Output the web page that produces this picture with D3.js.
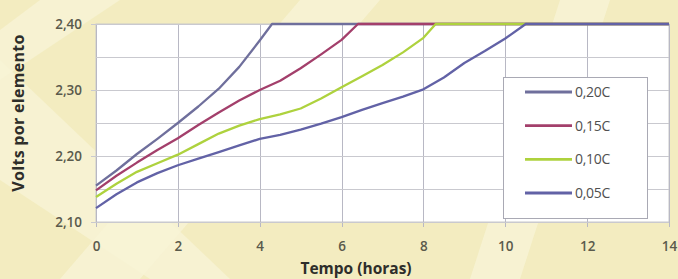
<!DOCTYPE html>
<html><head><meta charset="utf-8">
<script src="https://cdn.jsdelivr.net/npm/d3@7"></script>
<style>body{margin:0;background:#f4eec3;}svg{display:block;}</style>
</head><body>
<script>
const seriesNames = ["0,20C","0,15C","0,10C","0,05C"];
const t020 = [0,0.5,1,1.5,2,2.5,3,3.5,4,4.3,14];
const v020 = [2.155,2.178,2.203,2.226,2.250,2.275,2.302,2.335,2.375,2.400,2.400];
const t015 = [0,0.5,1,1.5,2,2.5,3,3.5,4,4.5,5,5.5,6,6.4,14];
const v015 = [2.148,2.170,2.190,2.209,2.227,2.247,2.266,2.284,2.300,2.314,2.333,2.354,2.376,2.400,2.400];
const t010 = [0,0.5,1,1.5,2,2.5,3,3.5,4,4.5,5,5.5,6,6.5,7,7.5,8,8.3,14];
const v010 = [2.138,2.158,2.176,2.189,2.202,2.218,2.234,2.246,2.256,2.263,2.272,2.287,2.304,2.321,2.338,2.357,2.379,2.400,2.400];
const t005 = [0,0.5,1,1.5,2,2.5,3,3.5,4,4.5,5,5.5,6,6.5,7,7.5,8,8.5,9,9.5,10,10.5,14];
const v005 = [2.121,2.142,2.160,2.174,2.186,2.196,2.206,2.216,2.226,2.232,2.240,2.249,2.259,2.270,2.280,2.290,2.301,2.319,2.341,2.359,2.378,2.400,2.400];
const xTicks = [0,2,4,6,8,10,12,14];
const yTicks = [2.10,2.20,2.30,2.40];
const yMinor = [2.15,2.25,2.35];
const colors = ["#6f6f9c","#a33f6b","#aed23e","#6262a6"];

const W=678,H=279;
const svg=d3.select("body").append("svg").attr("width",W).attr("height",H);
const bg=svg.append("g");
bg.append("rect").attr("width",W).attr("height",H).attr("fill","#f3ecc0");
const stripes=[[[0,60],[0,180],[150,279],[230,279]],[[300,0],[380,0],[140,279],[60,279]],[[560,0],[610,0],[520,279],[470,279]],[[40,0],[120,0],[0,80],[0,30]]];
bg.selectAll("path.s").data(stripes).join("path").attr("d",d=>"M"+d.join("L")+"Z").attr("fill","#f8f4d6").attr("opacity",0.8);

const x=d3.scaleLinear().domain([0,14]).range([96,669]);
const y=d3.scaleLinear().domain([2.10,2.40]).range([222,24]);

svg.append("rect").attr("x",x(0)).attr("y",y(2.40)).attr("width",x(14)-x(0)).attr("height",y(2.10)-y(2.40)).attr("fill","#fff").attr("stroke","#c9c9c9");

const grid=svg.append("g").attr("stroke","#c9c9cf").attr("stroke-width",1);
grid.selectAll("line.v").data(xTicks).join("line").attr("x1",d=>Math.round(x(d))+0.5).attr("x2",d=>Math.round(x(d))+0.5).attr("y1",y(2.40)).attr("y2",y(2.10)+5).attr("stroke","#b8b8c4");
grid.selectAll("line.h").data(yTicks.concat(yMinor)).join("line").attr("y1",d=>Math.round(y(d))+0.5).attr("y2",d=>Math.round(y(d))+0.5).attr("x1",d=>yTicks.includes(d)?x(0)-5:x(0)).attr("x2",x(14));

const xa=svg.append("g").attr("transform",`translate(0,${y(2.10)})`).call(d3.axisBottom(x).tickValues(xTicks).tickFormat(d3.format("d")).tickSize(0).tickPadding(19));
xa.select(".domain").remove();
const ya=svg.append("g").attr("transform",`translate(${x(0)},0)`).call(d3.axisLeft(y).tickValues(yTicks).tickFormat(d=>d3.format(".2f")(d).replace(".",",")).tickSize(0).tickPadding(14));
ya.select(".domain").remove();
svg.selectAll(".tick text").attr("font-family","Open Sans, sans-serif").attr("font-size",13.5).attr("font-weight","600").attr("fill","#5a5a4c");

const series=[[t020,v020],[t015,v015],[t010,v010],[t005,v005]];
const line=d3.line();
svg.append("g").selectAll("path").data(series).join("path")
  .attr("d",s=>line(s[0].map((t,i)=>[x(t),y(s[1][i])])))
  .attr("fill","none").attr("stroke",(d,i)=>colors[i]).attr("stroke-width",2.3).attr("stroke-linejoin","round");

const lg=svg.append("g");
lg.append("rect").attr("x",503.5).attr("y",77.5).attr("width",144).attr("height",141).attr("fill","#fff").attr("stroke","#a9a9b4");
const ly=d3.scaleLinear().domain([0,3]).range([92,193]);
seriesNames.forEach((n,i)=>{
  lg.append("line").attr("x1",525).attr("x2",572).attr("y1",ly(i)).attr("y2",ly(i)).attr("stroke",colors[i]).attr("stroke-width",2.8);
  lg.append("text").attr("x",575).attr("y",ly(i)+5).text(n).attr("font-family","Open Sans, sans-serif").attr("font-size",14).attr("fill","#505050").attr("letter-spacing","-0.3");
});

svg.append("text").attr("transform","translate(24,113) rotate(-90)").attr("text-anchor","middle").text("Volts por elemento").attr("font-family","Open Sans, sans-serif").attr("font-weight","bold").attr("font-size",16).attr("letter-spacing","0.3").attr("fill","#2e2e2a");
svg.append("text").attr("x",356).attr("y",274).attr("text-anchor","middle").text("Tempo (horas)").attr("font-family","Open Sans, sans-serif").attr("font-weight","bold").attr("font-size",15.5).attr("fill","#2e2e2a");
</script>
</body></html>
